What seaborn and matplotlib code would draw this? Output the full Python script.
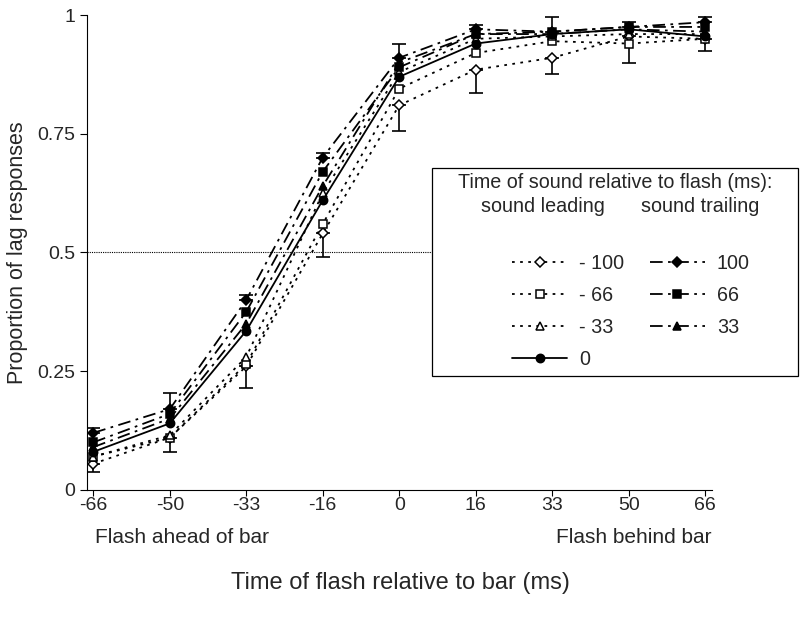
import numpy as np
import pandas as pd
import seaborn as sns
import matplotlib.pyplot as plt
from matplotlib.patches import Rectangle

# flash position relative to bar (ms)
flash_times = ["-66", "-50", "-33", "-16", "0", "16", "33", "50", "66"]

# proportion of lag responses, one list per sound offset
lead_100 = [0.055, 0.11, 0.26, 0.54, 0.81, 0.885, 0.91, 0.955, 0.95]
lead_66 = [0.07, 0.11, 0.265, 0.56, 0.845, 0.92, 0.945, 0.94, 0.95]
lead_33 = [0.07, 0.115, 0.28, 0.625, 0.88, 0.95, 0.955, 0.96, 0.96]
sync_0 = [0.08, 0.14, 0.335, 0.61, 0.87, 0.94, 0.96, 0.97, 0.955]
trail_100 = [0.12, 0.17, 0.40, 0.70, 0.91, 0.97, 0.965, 0.975, 0.985]
trail_66 = [0.10, 0.16, 0.375, 0.67, 0.89, 0.96, 0.965, 0.975, 0.975]
trail_33 = [0.09, 0.15, 0.35, 0.64, 0.90, 0.96, 0.96, 0.97, 0.965]

# error bars (lower for -100, upper for +100)
err_lead_100 = [0.017, 0.03, 0.045, 0.05, 0.055, 0.05, 0.035, 0.055, 0.025]
err_trail_100 = [0.01, 0.035, 0.01, 0.01, 0.03, 0.01, 0.03, 0.01, 0.01]

sns.set_style("ticks")
plt.rcParams["font.family"] = ["Liberation Sans", "DejaVu Sans"]
FS = 14
LFS = 14.2

fig = plt.figure(figsize=(8, 6.28), dpi=100)
ax = fig.add_axes([0.109, 0.22, 0.781, 0.756])

pos = np.arange(len(flash_times))
dot = (0, (1.5, 3))
dashdot = (0, (7, 3, 1.5, 3))

series = [
    ("- 100", lead_100, "D", "white", dot, 5),
    ("- 66", lead_66, "s", "white", dot, 6),
    ("- 33", lead_33, "^", "white", dot, 6),
    ("0", sync_0, "o", "black", "-", 6),
    ("100", trail_100, "D", "black", dashdot, 5),
    ("66", trail_66, "s", "black", dashdot, 6),
    ("33", trail_33, "^", "black", dashdot, 6),
]

# dotted 0.5 reference line up to the legend box
ax.plot([pos[0] - 0.08, 4.43], [0.5, 0.5], color="black", lw=0.8,
        linestyle=(0, (1, 1)), zorder=1)

ax.errorbar(pos, lead_100, yerr=[err_lead_100, np.zeros(9)], fmt="none",
            ecolor="black", elinewidth=1.2, capsize=5, capthick=1.2, zorder=2)
ax.errorbar(pos, trail_100, yerr=[np.zeros(9), err_trail_100], fmt="none",
            ecolor="black", elinewidth=1.2, capsize=5, capthick=1.2, zorder=2)

for label, vals, mk, fc, ls, ms in series:
    df = pd.DataFrame({"x": pos, "y": vals})
    sns.lineplot(data=df, x="x", y="y", ax=ax, color="black", linewidth=1.3,
                 linestyle=ls, marker=mk, markersize=ms, markerfacecolor=fc,
                 markeredgecolor="black", markeredgewidth=1.1, label=label,
                 zorder=3)

ax.set_xlim(-0.08, 8.09)
ax.set_ylim(0, 1)
ax.set_xticks(pos, flash_times)
ax.set_yticks([0, 0.25, 0.5, 0.75, 1], ["0", "0.25", "0.5", "0.75", "1"])
ax.tick_params(labelsize=FS, length=5, width=0.8, color="black")
ax.tick_params(axis="x", length=4, pad=1)
ax.set_xlabel("")
ax.set_ylabel("Proportion of lag responses", fontsize=15.5, labelpad=7)
sns.despine(ax=ax)
for sp in ["left", "bottom"]:
    ax.spines[sp].set_linewidth(0.8)
    ax.spines[sp].set_color("black")

# legend box with its headings
ax.add_patch(Rectangle((0.552, 0.24), 0.586, 0.438, transform=ax.transAxes,
                       fill=True, facecolor="white", edgecolor="black",
                       lw=0.9, clip_on=False, zorder=4))
ax.text(0.845, 0.648, "Time of sound relative to flash (ms):",
        transform=ax.transAxes, ha="center", va="center", fontsize=LFS,
        zorder=5)
ax.text(0.730, 0.596, "sound leading", transform=ax.transAxes,
        ha="center", va="center", fontsize=LFS, zorder=5)
ax.text(0.981, 0.596, "sound trailing", transform=ax.transAxes,
        ha="center", va="center", fontsize=LFS, zorder=5)

handles, labels = ax.get_legend_handles_labels()
leg = ax.legend(handles, labels, ncol=2, fontsize=LFS, loc="upper left",
                bbox_to_anchor=(0.68, 0.497), frameon=False,
                handlelength=2.8, handletextpad=0.6, columnspacing=1.3,
                labelspacing=0.66, borderpad=0, borderaxespad=0,
                numpoints=1)
leg.set_zorder(6)

fig.text(0.119, 0.136, "Flash ahead of bar", fontsize=15, ha="left")
fig.text(0.89, 0.136, "Flash behind bar", fontsize=15, ha="right")
fig.text(0.5, 0.062, "Time of flash relative to bar (ms)", fontsize=17,
         ha="center")

fig.savefig("out.png", dpi=100)
